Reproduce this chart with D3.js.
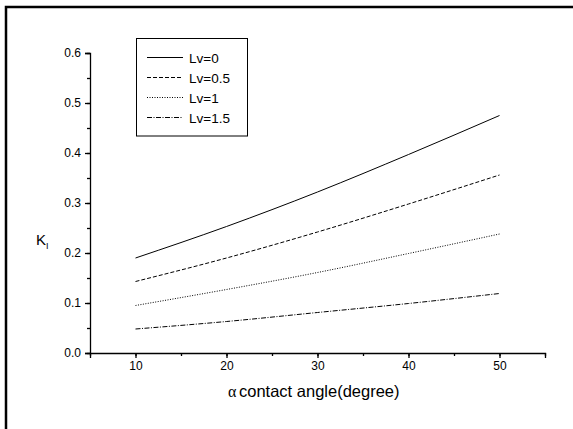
<!DOCTYPE html>
<html lang="en">
<head>
	<meta charset="UTF-8">
	<title>K vs contact angle</title>
	<script src="https://cdn.jsdelivr.net/npm/d3@7"></script>
	<style>
		body { margin: 0; background: #fff; }
		text { font-family: "Liberation Sans", Arial, sans-serif; fill: #000; }
	</style>
</head>
<body>
<svg width="573" height="429"></svg>
<script>
	// contact angle (degree)
	const angles = [10, 20, 30, 40, 50];
	const lv0 = [0.190, 0.253, 0.322, 0.397, 0.475];
	const lv05 = [0.143, 0.190, 0.242, 0.298, 0.356];
	const lv1 = [0.095, 0.127, 0.161, 0.199, 0.238];
	const lv15 = [0.048, 0.063, 0.081, 0.099, 0.119];
	const seriesNames = ["Lv=0", "Lv=0.5", "Lv=1", "Lv=1.5"];
	const xTicks = [10, 20, 30, 40, 50];
	const yTicks = [0.0, 0.1, 0.2, 0.3, 0.4, 0.5, 0.6];

	const dashes = ["none", "4,2", "1,1.5", "5,1.5,1,1.5"];
	const allSeries = [lv0, lv05, lv1, lv15];

	const svg = d3.select("svg");

	// outer frame (only top and left visible)
	svg.append("path")
		.attr("d", "M6,429 L6,7 L573,7")
		.attr("fill", "none")
		.attr("stroke", "#000")
		.attr("stroke-width", 2.5);

	const x = d3.scaleLinear().domain([5, 55]).range([90, 545]);
	const y = d3.scaleLinear().domain([0, 0.6]).range([353, 53]);

	// minor ticks
	const gx = svg.append("g").attr("transform", "translate(0,353)");
	gx.call(d3.axisBottom(x).tickValues(d3.range(5, 56, 5)).tickSize(3).tickFormat(""));
	gx.call(g => g.select(".domain").remove());
	svg.append("g").attr("transform", "translate(0,353)")
		.call(d3.axisBottom(x).tickValues(xTicks).tickSizeOuter(0).tickSize(5).tickPadding(3).tickFormat(d3.format("d")));

	const gy = svg.append("g").attr("transform", "translate(90,0)");
	gy.call(d3.axisLeft(y).tickValues(d3.range(0, 0.61, 0.05)).tickSize(3).tickFormat(""));
	gy.call(g => g.select(".domain").remove());
	svg.append("g").attr("transform", "translate(90,0)")
		.call(d3.axisLeft(y).tickValues(yTicks).tickSizeOuter(0).tickSize(5).tickPadding(4).tickFormat(d3.format(".1f")));

	svg.selectAll(".tick line, .domain").attr("stroke", "#000").attr("stroke-width", 1.3);
	svg.selectAll(".tick text").style("font-size", "12px").attr("fill", "#000")
		.style("font-family", "'Liberation Sans', Arial, sans-serif");

	const line = d3.line()
		.x((d, i) => x(angles[i]))
		.y(d => y(d))
		.curve(d3.curveMonotoneX);

	allSeries.forEach((s, i) => {
		svg.append("path")
			.attr("d", line(s))
			.attr("fill", "none")
			.attr("stroke", "#000")
			.attr("stroke-width", 1)
			.attr("stroke-dasharray", dashes[i]);
	});

	// legend
	svg.append("rect")
		.attr("x", 136.5).attr("y", 38.5)
		.attr("width", 111).attr("height", 97.5)
		.attr("fill", "none").attr("stroke", "#000").attr("stroke-width", 1);

	const legend = svg.append("g").selectAll("g")
		.data(seriesNames)
		.enter().append("g")
		.attr("transform", (d, i) => `translate(147,${57.5 + i * 20})`);
	legend.append("line")
		.attr("x1", 0).attr("x2", 36)
		.attr("stroke", "#000").attr("stroke-width", 1)
		.attr("stroke-dasharray", (d, i) => dashes[i]);
	legend.append("text")
		.attr("x", 42).attr("y", 5)
		.style("font-size", "13.5px")
		.text(d => d);

	// axis titles
	const yl = svg.append("text").attr("x", 36).attr("y", 245).style("font-size", "15px");
	yl.append("tspan").text("K");
	yl.append("tspan").attr("dy", 4).style("font-size", "9px").text("I");

	svg.append("text").attr("x", 228).attr("y", 397)
		.style("font-family", "'Liberation Serif', serif")
		.style("font-size", "16px").text("α");
	svg.append("text").attr("x", 239).attr("y", 397)
		.style("font-size", "16.5px").text("contact angle(degree)");
</script>
</body>
</html>
